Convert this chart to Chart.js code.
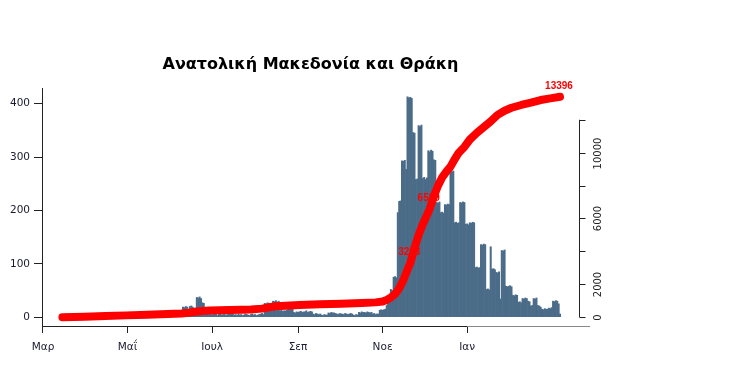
<!DOCTYPE html>
<html>
<head>
<meta charset="utf-8">
<script src="https://cdn.jsdelivr.net/npm/chart.js@4/dist/chart.umd.min.js"></script>
<style>
  body { margin: 0; background: #fff; }
  #mycanvas { display: block; }
</style>
</head>
<body>
<canvas id="mycanvas" width="748" height="372"></canvas>
<script>
// days are counted from 1 March 2020 (day 0)
var title = "Ανατολική Μακεδονία και Θράκη";
var monthDays = [0, 61, 122, 184, 245, 306];
var monthLabels = ["Μαρ", "Μαΐ", "Ιουλ", "Σεπ", "Νοε", "Ιαν"];
var leftTicks = [0, 100, 200, 300, 400];
var rightTicks = [0, 2000, 4000, 6000, 8000, 10000, 12000];
var rightLabels = ["0", "2000", "", "6000", "", "10000", ""];

// daily cases, first value is day 14 (15 Mar 2020)
var firstDay = 14;
var daily = [
  1,0,2,1,3,2,1,4,2,3,1,2,5,2,3,1,2,
  3,2,4,1,2,3,5,2,1,3,2,4,3,1,2,2,3,1,4,2,1,3,2,1,2,3,1,2,1,2,
  1,2,1,3,2,1,2,1,0,2,1,1,2,3,1,2,1,2,1,3,2,1,2,4,3,2,5,3,4,6,3,5,4,7,5,6,8,5,9,7,
  19,18,20,19,12,20,21,19,16,17,
  37,36,38,35,27,26,
  8,6,9,5,7,4,6,8,5,3,6,7,4,5,6,3,5,
  7,8,6,7,
  4,5,3,6,4,5,3,4,6,5,4,3,5,6,4,5,3,4,5,6,7,5,
  26,25,27,26,24,14,
  30,29,31,28,30,12,13,11,12,12,13,
  26,25,27,24,9,8,10,9,
  10,11,9,10,10,12,9,10,11,10,6,5,7,6,5,6,
  4,3,5,4,4,8,7,9,8,8,7,
  6,5,7,6,6,5,7,6,5,6,7,6,4,3,5,4,
  9,8,10,9,9,8,10,9,8,9,6,7,5,6,6,
  13,14,13,14,15,22,28,30,
  52,50,75,76,74,196,217,218,293,292,294,277,
  413,411,412,410,346,345,258,259,359,357,360,
  260,262,258,261,312,310,313,311,295,294,215,214,216,
  196,197,195,211,210,212,211,273,272,274,177,178,176,177,
  215,214,216,215,174,175,173,177,176,178,177,93,94,92,93,
  136,135,137,136,52,53,51,132,90,91,89,84,83,85,34,
  125,124,126,58,57,58,59,57,41,40,42,41,28,29,27,
  35,34,36,35,30,29,21,22,35,34,36,22,21,19,
  15,14,16,15,15,17,16,18,30,29,31,30,25,6
];

// cumulative cases
var cumDays = [14, 30, 45, 60, 75, 90, 100, 105, 110, 115, 120, 135, 150, 158, 163, 168,
  175, 185, 200, 215, 230, 240, 245, 248, 251, 254, 257, 260, 263, 265, 268, 271, 274,
  277, 279, 282, 285, 288, 291, 294, 297, 300, 304, 308, 313, 318, 323, 328, 333, 338,
  345, 352, 359, 366, 373];
var cumValues = [0, 30, 70, 110, 150, 190, 230, 270, 330, 380, 410, 440, 470, 520, 600, 660,
  700, 740, 780, 820, 860, 900, 950, 1050, 1200, 1400, 1750, 2250, 2900, 3283, 4200, 5000, 5650,
  6200, 6589, 7350, 8000, 8500, 8850, 9150, 9600, 10000, 10350, 10800, 11200, 11550, 11900, 12300, 12550, 12730,
  12900, 13040, 13200, 13300, 13396];

var noteDays = [265, 279, 373];
var noteValues = [3283, 6589, 13396];

var barData = [];
for (var i = 0; i < daily.length; i++) {
  barData.push({ x: firstDay + i, y: daily[i] });
}
var lineData = [];
for (var j = 0; j < cumDays.length; j++) {
  lineData.push({ x: cumDays[j], y: cumValues[j] });
}

var extras = {
  id: "extras",
  afterDraw: function(chart) {
    var ctx = chart.ctx;
    var area = chart.chartArea;
    var xs = chart.scales.x;
    var y2 = chart.scales.y2;
    ctx.save();

    // title
    ctx.fillStyle = "#000";
    ctx.font = "bold 16px 'DejaVu Sans'";
    ctx.textAlign = "center";
    ctx.textBaseline = "alphabetic";
    ctx.fillText(title, (area.left + area.right) / 2, 69);

    // bottom axis line
    var lastTick = xs.getPixelForValue(monthDays[monthDays.length - 1]);
    ctx.lineWidth = 1;
    ctx.strokeStyle = "#222";
    ctx.beginPath();
    ctx.moveTo(area.left, area.bottom + 0.5);
    ctx.lineTo(lastTick, area.bottom + 0.5);
    ctx.stroke();
    ctx.strokeStyle = "#888";
    ctx.beginPath();
    ctx.moveTo(lastTick, area.bottom + 0.5);
    ctx.lineTo(area.right + 11, area.bottom + 0.5);
    ctx.stroke();

    // right axis
    var ax = Math.round(area.right) + 0.5;
    ctx.strokeStyle = "#222";
    ctx.beginPath();
    ctx.moveTo(ax, y2.getPixelForValue(rightTicks[0]));
    ctx.lineTo(ax, y2.getPixelForValue(rightTicks[rightTicks.length - 1]));
    ctx.stroke();
    ctx.fillStyle = "#222";
    ctx.font = "10px 'DejaVu Sans'";
    for (var k = 0; k < rightTicks.length; k++) {
      var py = Math.round(y2.getPixelForValue(rightTicks[k])) + 0.5;
      ctx.beginPath();
      ctx.moveTo(ax, py);
      ctx.lineTo(ax + 6, py);
      ctx.stroke();
      if (rightLabels[k] !== "") {
        ctx.save();
        ctx.translate(ax + 19, py);
        ctx.rotate(-Math.PI / 2);
        ctx.textAlign = "center";
        ctx.textBaseline = "middle";
        ctx.fillText(rightLabels[k], 0, 0);
        ctx.restore();
      }
    }

    // value notes on the red curve
    ctx.fillStyle = "#ff0000";
    ctx.font = "bold 10px 'Liberation Sans'";
    ctx.textAlign = "center";
    ctx.textBaseline = "middle";
    for (var n = 0; n < noteDays.length; n++) {
      ctx.fillText(String(noteValues[n]), xs.getPixelForValue(noteDays[n]) - 1, y2.getPixelForValue(noteValues[n]) - 11);
    }
    ctx.restore();
  }
};

var ctx = document.getElementById("mycanvas");

var chart = new Chart(ctx, {
  type: "bar",
  data: {
    datasets: [
      {
        type: "line",
        label: "cumulative",
        data: lineData,
        yAxisID: "y2",
        borderColor: "#ff0000",
        backgroundColor: "#ff0000",
        borderWidth: 8,
        borderCapStyle: "round",
        borderJoinStyle: "round",
        pointRadius: 0,
        tension: 0,
        fill: false,
        order: 0
      },
      {
        label: "daily",
        data: barData,
        yAxisID: "y",
        backgroundColor: "#4b6c88",
        borderWidth: 0,
        barPercentage: 1,
        categoryPercentage: 1,
        order: 1
      }
    ]
  },
  options: {
    responsive: false,
    animation: false,
    layout: { padding: { top: 88, right: 169, left: 0, bottom: 0 } },
    plugins: {
      legend: { display: false },
      tooltip: { enabled: false }
    },
    scales: {
      x: {
        type: "linear",
        min: -0.72,
        max: 386.7,
        offset: false,
        afterBuildTicks: function(scale) {
          scale.ticks = monthDays.map(function(d) { return { value: d }; });
        },
        afterFit: function(scale) { scale.height = 46; },
        ticks: {
          autoSkip: false,
          maxRotation: 0,
          minRotation: 0,
          padding: 8,
          color: "#1a1a2e",
          font: { family: "DejaVu Sans", size: 10.5 },
          callback: function(v, idx) { return monthLabels[idx]; }
        },
        grid: { display: true, drawOnChartArea: false, drawTicks: true, tickLength: 7, color: "#222", offset: false },
        border: { display: false }
      },
      y: {
        position: "left",
        min: -16.5,
        max: 429.5,
        afterBuildTicks: function(scale) {
          scale.ticks = leftTicks.map(function(v) { return { value: v }; });
        },
        afterFit: function(scale) { scale.width = 42; },
        ticks: {
          padding: 4,
          color: "#1a1a2e",
          font: { family: "DejaVu Sans", size: 10.5 }
        },
        grid: { display: true, drawOnChartArea: false, drawTicks: true, tickLength: 8, color: "#222" },
        border: { display: true, color: "#222", width: 1 }
      },
      y2: {
        position: "right",
        display: false,
        min: -536,
        max: 13932
      }
    }
  },
  plugins: [extras]
});
</script>
</body>
</html>
